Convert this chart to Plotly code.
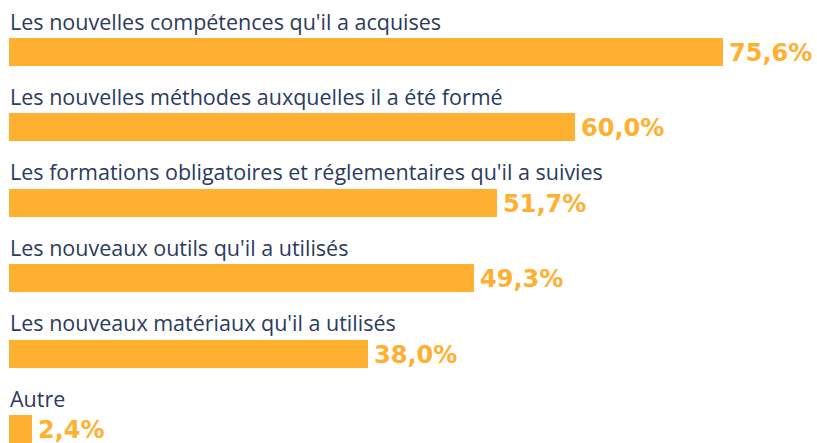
import plotly.graph_objects as go

categories = [
    "Les nouvelles compétences qu'il a acquises",
    "Les nouvelles méthodes auxquelles il a été formé",
    "Les formations obligatoires et réglementaires qu'il a suivies",
    "Les nouveaux outils qu'il a utilisés",
    "Les nouveaux matériaux qu'il a utilisés",
    "Autre",
]
values = [75.6, 60.0, 51.7, 49.3, 38.0, 2.4]
value_labels = ["75,6%", "60,0%", "51,7%", "49,3%", "38,0%", "2,4%"]

ORANGE = "#FFB031"
NAVY = "#2B3A5E"

pos = list(range(len(categories)))

fig = go.Figure(go.Bar(
    x=values,
    y=pos,
    orientation="h",
    marker=dict(color=ORANGE, line=dict(width=0)),
    width=0.37,
    hoverinfo="skip",
))

for i, c in enumerate(categories):
    fig.add_annotation(
        x=0, y=i, xref="x", yref="y", text=c, showarrow=False,
        xanchor="left", yanchor="middle", yshift=31, xshift=-1,
        font=dict(family="Open Sans, sans-serif", size=21.5, color=NAVY),
    )
    fig.add_annotation(
        x=values[i], y=i, xref="x", yref="y", text=value_labels[i], showarrow=False,
        xanchor="left", yanchor="middle", xshift=4, yshift=-1,
        font=dict(family="DejaVu Sans, sans-serif", size=24, color=ORANGE, weight="bold"),
    )

fig.update_layout(
    width=817, height=443,
    margin=dict(l=9, r=0, t=0, b=0),
    paper_bgcolor="white", plot_bgcolor="white",
    showlegend=False,
    xaxis=dict(range=[0, 808 / 9.44], visible=False, fixedrange=True),
    yaxis=dict(range=[5 + 14 / 75.4, -52 / 75.4], visible=False, fixedrange=True),
    bargap=0,
)

fig.write_html("out.html", config={"displayModeBar": False},
               post_script="document.body.style.margin='0';document.body.style.overflow='hidden';")
